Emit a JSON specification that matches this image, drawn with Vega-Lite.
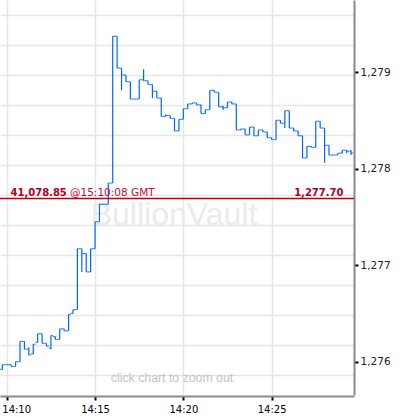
{
  "$schema": "https://vega.github.io/schema/vega-lite/v6.json",
  "width": 354,
  "height": 395,
  "autosize": "none",
  "padding": {"left": 0, "top": 0, "right": 46, "bottom": 22},
  "background": "white",
  "config": {
    "view": {"stroke": null},
    "font": "DejaVu Sans"
  },
  "data": {
    "values": [
      {"time": "2013-01-01T14:09:45", "open": 1275.92, "high": 1275.97, "low": 1275.92, "close": 1275.97},
      {"time": "2013-01-01T14:10:00", "open": 1275.97, "high": 1275.97, "low": 1275.97, "close": 1275.97},
      {"time": "2013-01-01T14:10:15", "open": 1275.97, "high": 1275.97, "low": 1275.95, "close": 1275.95},
      {"time": "2013-01-01T14:10:30", "open": 1275.95, "high": 1276.00, "low": 1275.95, "close": 1276.00},
      {"time": "2013-01-01T14:10:45", "open": 1276.00, "high": 1276.21, "low": 1276.00, "close": 1276.21},
      {"time": "2013-01-01T14:11:00", "open": 1276.21, "high": 1276.21, "low": 1276.13, "close": 1276.13},
      {"time": "2013-01-01T14:11:15", "open": 1276.13, "high": 1276.15, "low": 1276.07, "close": 1276.07},
      {"time": "2013-01-01T14:11:30", "open": 1276.08, "high": 1276.18, "low": 1276.08, "close": 1276.18},
      {"time": "2013-01-01T14:11:45", "open": 1276.20, "high": 1276.29, "low": 1276.20, "close": 1276.29},
      {"time": "2013-01-01T14:12:00", "open": 1276.29, "high": 1276.29, "low": 1276.19, "close": 1276.19},
      {"time": "2013-01-01T14:12:15", "open": 1276.19, "high": 1276.19, "low": 1276.16, "close": 1276.16},
      {"time": "2013-01-01T14:12:30", "open": 1276.14, "high": 1276.27, "low": 1276.13, "close": 1276.27},
      {"time": "2013-01-01T14:12:45", "open": 1276.26, "high": 1276.26, "low": 1276.23, "close": 1276.23},
      {"time": "2013-01-01T14:13:00", "open": 1276.23, "high": 1276.34, "low": 1276.23, "close": 1276.34},
      {"time": "2013-01-01T14:13:15", "open": 1276.34, "high": 1276.34, "low": 1276.32, "close": 1276.32},
      {"time": "2013-01-01T14:13:30", "open": 1276.32, "high": 1276.49, "low": 1276.32, "close": 1276.49},
      {"time": "2013-01-01T14:13:45", "open": 1276.50, "high": 1276.54, "low": 1276.50, "close": 1276.54},
      {"time": "2013-01-01T14:14:00", "open": 1276.54, "high": 1277.17, "low": 1276.54, "close": 1277.17},
      {"time": "2013-01-01T14:14:15", "open": 1277.17, "high": 1277.17, "low": 1276.93, "close": 1277.12},
      {"time": "2013-01-01T14:14:30", "open": 1277.12, "high": 1277.12, "low": 1276.93, "close": 1276.93},
      {"time": "2013-01-01T14:14:45", "open": 1276.93, "high": 1277.17, "low": 1276.93, "close": 1277.17},
      {"time": "2013-01-01T14:15:00", "open": 1277.17, "high": 1277.45, "low": 1277.17, "close": 1277.45},
      {"time": "2013-01-01T14:15:15", "open": 1277.45, "high": 1277.63, "low": 1277.45, "close": 1277.63},
      {"time": "2013-01-01T14:15:30", "open": 1277.63, "high": 1277.63, "low": 1277.63, "close": 1277.63},
      {"time": "2013-01-01T14:15:45", "open": 1277.63, "high": 1277.85, "low": 1277.63, "close": 1277.85},
      {"time": "2013-01-01T14:16:00", "open": 1277.85, "high": 1279.37, "low": 1277.85, "close": 1279.37},
      {"time": "2013-01-01T14:16:15", "open": 1279.37, "high": 1279.37, "low": 1279.04, "close": 1279.04},
      {"time": "2013-01-01T14:16:30", "open": 1279.04, "high": 1279.04, "low": 1278.81, "close": 1278.97},
      {"time": "2013-01-01T14:16:45", "open": 1278.97, "high": 1278.97, "low": 1278.90, "close": 1278.90},
      {"time": "2013-01-01T14:17:00", "open": 1278.90, "high": 1278.90, "low": 1278.72, "close": 1278.72},
      {"time": "2013-01-01T14:17:15", "open": 1278.72, "high": 1278.72, "low": 1278.72, "close": 1278.72},
      {"time": "2013-01-01T14:17:30", "open": 1278.72, "high": 1278.92, "low": 1278.72, "close": 1278.92},
      {"time": "2013-01-01T14:17:45", "open": 1278.92, "high": 1279.03, "low": 1278.91, "close": 1278.91},
      {"time": "2013-01-01T14:18:00", "open": 1278.91, "high": 1278.91, "low": 1278.87, "close": 1278.87},
      {"time": "2013-01-01T14:18:15", "open": 1278.87, "high": 1278.87, "low": 1278.73, "close": 1278.80},
      {"time": "2013-01-01T14:18:30", "open": 1278.80, "high": 1278.80, "low": 1278.73, "close": 1278.73},
      {"time": "2013-01-01T14:18:45", "open": 1278.73, "high": 1278.73, "low": 1278.54, "close": 1278.54},
      {"time": "2013-01-01T14:19:00", "open": 1278.54, "high": 1278.56, "low": 1278.54, "close": 1278.55},
      {"time": "2013-01-01T14:19:15", "open": 1278.55, "high": 1278.55, "low": 1278.52, "close": 1278.52},
      {"time": "2013-01-01T14:19:30", "open": 1278.52, "high": 1278.52, "low": 1278.39, "close": 1278.39},
      {"time": "2013-01-01T14:19:45", "open": 1278.39, "high": 1278.51, "low": 1278.39, "close": 1278.51},
      {"time": "2013-01-01T14:20:00", "open": 1278.51, "high": 1278.62, "low": 1278.51, "close": 1278.62},
      {"time": "2013-01-01T14:20:15", "open": 1278.62, "high": 1278.67, "low": 1278.62, "close": 1278.67},
      {"time": "2013-01-01T14:20:30", "open": 1278.67, "high": 1278.68, "low": 1278.67, "close": 1278.68},
      {"time": "2013-01-01T14:20:45", "open": 1278.68, "high": 1278.68, "low": 1278.66, "close": 1278.66},
      {"time": "2013-01-01T14:21:00", "open": 1278.66, "high": 1278.66, "low": 1278.57, "close": 1278.57},
      {"time": "2013-01-01T14:21:15", "open": 1278.57, "high": 1278.61, "low": 1278.57, "close": 1278.61},
      {"time": "2013-01-01T14:21:30", "open": 1278.61, "high": 1278.81, "low": 1278.61, "close": 1278.81},
      {"time": "2013-01-01T14:21:45", "open": 1278.81, "high": 1278.81, "low": 1278.79, "close": 1278.79},
      {"time": "2013-01-01T14:22:00", "open": 1278.79, "high": 1278.79, "low": 1278.64, "close": 1278.64},
      {"time": "2013-01-01T14:22:15", "open": 1278.64, "high": 1278.65, "low": 1278.61, "close": 1278.63},
      {"time": "2013-01-01T14:22:30", "open": 1278.63, "high": 1278.69, "low": 1278.63, "close": 1278.69},
      {"time": "2013-01-01T14:22:45", "open": 1278.69, "high": 1278.69, "low": 1278.67, "close": 1278.67},
      {"time": "2013-01-01T14:23:00", "open": 1278.67, "high": 1278.67, "low": 1278.40, "close": 1278.40},
      {"time": "2013-01-01T14:23:15", "open": 1278.40, "high": 1278.41, "low": 1278.40, "close": 1278.41},
      {"time": "2013-01-01T14:23:30", "open": 1278.41, "high": 1278.41, "low": 1278.35, "close": 1278.35},
      {"time": "2013-01-01T14:23:45", "open": 1278.35, "high": 1278.43, "low": 1278.35, "close": 1278.43},
      {"time": "2013-01-01T14:24:00", "open": 1278.43, "high": 1278.43, "low": 1278.34, "close": 1278.34},
      {"time": "2013-01-01T14:24:15", "open": 1278.34, "high": 1278.40, "low": 1278.34, "close": 1278.40},
      {"time": "2013-01-01T14:24:30", "open": 1278.40, "high": 1278.40, "low": 1278.38, "close": 1278.38},
      {"time": "2013-01-01T14:24:45", "open": 1278.38, "high": 1278.38, "low": 1278.32, "close": 1278.32},
      {"time": "2013-01-01T14:25:00", "open": 1278.32, "high": 1278.32, "low": 1278.30, "close": 1278.30},
      {"time": "2013-01-01T14:25:15", "open": 1278.30, "high": 1278.50, "low": 1278.30, "close": 1278.50},
      {"time": "2013-01-01T14:25:30", "open": 1278.50, "high": 1278.50, "low": 1278.47, "close": 1278.47},
      {"time": "2013-01-01T14:25:45", "open": 1278.47, "high": 1278.60, "low": 1278.42, "close": 1278.60},
      {"time": "2013-01-01T14:26:00", "open": 1278.60, "high": 1278.60, "low": 1278.42, "close": 1278.42},
      {"time": "2013-01-01T14:26:15", "open": 1278.42, "high": 1278.42, "low": 1278.39, "close": 1278.39},
      {"time": "2013-01-01T14:26:30", "open": 1278.39, "high": 1278.39, "low": 1278.34, "close": 1278.34},
      {"time": "2013-01-01T14:26:45", "open": 1278.34, "high": 1278.34, "low": 1278.11, "close": 1278.11},
      {"time": "2013-01-01T14:27:00", "open": 1278.11, "high": 1278.23, "low": 1278.11, "close": 1278.23},
      {"time": "2013-01-01T14:27:15", "open": 1278.23, "high": 1278.23, "low": 1278.22, "close": 1278.22},
      {"time": "2013-01-01T14:27:30", "open": 1278.22, "high": 1278.49, "low": 1278.22, "close": 1278.49},
      {"time": "2013-01-01T14:27:45", "open": 1278.49, "high": 1278.49, "low": 1278.42, "close": 1278.42},
      {"time": "2013-01-01T14:28:00", "open": 1278.42, "high": 1278.42, "low": 1278.06, "close": 1278.24},
      {"time": "2013-01-01T14:28:15", "open": 1278.24, "high": 1278.24, "low": 1278.14, "close": 1278.14},
      {"time": "2013-01-01T14:28:30", "open": 1278.14, "high": 1278.14, "low": 1278.14, "close": 1278.14},
      {"time": "2013-01-01T14:28:45", "open": 1278.14, "high": 1278.16, "low": 1278.14, "close": 1278.16},
      {"time": "2013-01-01T14:29:00", "open": 1278.16, "high": 1278.19, "low": 1278.16, "close": 1278.19},
      {"time": "2013-01-01T14:29:15", "open": 1278.19, "high": 1278.19, "low": 1278.16, "close": 1278.18},
      {"time": "2013-01-01T14:29:30", "open": 1278.18, "high": 1278.19, "low": 1278.14, "close": 1278.16}
    ]
  },
  "resolve": {"axis": {"y": "independent"}},
  "layer": [
    {
      "data": {"values": [{"mark": "BullionVault"}]},
      "mark": {"type": "text", "font": "Liberation Sans", "fontSize": 32, "color": "#ebebeb", "baseline": "alphabetic", "align": "center", "dx": -3, "dy": 27},
      "encoding": {"text": {"field": "mark"}}
    },
    {
      "data": {"values": [{"hint": "click chart to zoom out"}]},
      "mark": {"type": "text", "font": "Liberation Sans", "fontSize": 12.3, "color": "#c4c4c4", "baseline": "alphabetic", "align": "center", "dx": -5, "dy": 184},
      "encoding": {"text": {"field": "hint"}}
    },
    {
      "mark": {"type": "rule", "color": "#0066ff", "strokeWidth": 1.2},
      "encoding": {
        "x": {
          "field": "time", "type": "temporal",
          "scale": {"domain": [
            {"year": 2013, "month": 1, "date": 1, "hours": 14, "minutes": 9, "seconds": 37},
            {"year": 2013, "month": 1, "date": 1, "hours": 14, "minutes": 29, "seconds": 40}
          ]},
          "axis": {
            "values": [
              {"year": 2013, "month": 1, "date": 1, "hours": 14, "minutes": 10},
              {"year": 2013, "month": 1, "date": 1, "hours": 14, "minutes": 15},
              {"year": 2013, "month": 1, "date": 1, "hours": 14, "minutes": 20},
              {"year": 2013, "month": 1, "date": 1, "hours": 14, "minutes": 25}
            ],
            "format": "%H:%M", "title": null,
            "grid": true, "gridColor": "#e6e6e6", "gridWidth": 1.5,
            "domainColor": "#8a8a8a", "domainWidth": 2, "offset": 1,
            "tickColor": "#000", "tickWidth": 2, "tickSize": 4,
            "labelFontSize": 10, "labelColor": "#000", "labelPadding": 4,
            "labelFlush": 10, "labelFlushOffset": 5
          }
        },
        "y": {
          "field": "low", "type": "quantitative",
          "scale": {"domain": [1275.655, 1279.746], "zero": false, "nice": false},
          "axis": {
            "orient": "right", "values": [1276, 1277, 1278, 1279], "format": ",d", "title": null,
            "grid": false, "domainColor": "#8a8a8a", "domainWidth": 2,
            "tickColor": "#000", "tickWidth": 2, "tickSize": 4,
            "labelFontSize": 10.5, "labelColor": "#222", "labelPadding": 2
          }
        },
        "y2": {"field": "high"}
      }
    },
    {
      "mark": {"type": "tick", "orient": "horizontal", "color": "#0066ff", "size": 2.4, "thickness": 1.2, "xOffset": -1.1},
      "encoding": {
        "x": {"field": "time", "type": "temporal"},
        "y": {
          "field": "open", "type": "quantitative",
          "axis": {
            "orient": "left", "title": null, "domain": false, "ticks": false, "labels": false,
            "grid": true, "gridColor": "#e6e6e6", "gridWidth": 1.5,
            "values": [1279.590, 1279.280, 1278.969, 1278.658, 1278.348, 1278.037, 1277.726, 1277.416, 1277.105, 1276.794, 1276.484, 1276.173, 1275.862]
          }
        }
      }
    },
    {
      "mark": {"type": "tick", "orient": "horizontal", "color": "#0066ff", "size": 2.4, "thickness": 1.2, "xOffset": 1.1},
      "encoding": {
        "x": {"field": "time", "type": "temporal"},
        "y": {"field": "close", "type": "quantitative", "axis": null}
      }
    },
    {
      "data": {"values": [{"price": 1277.69, "last": "1,277.70", "volume": "41,078.85", "stamp": "@15:10:08 GMT"}]},
      "layer": [
        {
          "mark": {"type": "rule", "color": "#c00000", "strokeWidth": 1.3},
          "encoding": {"y": {"field": "price", "type": "quantitative", "axis": null}}
        },
        {
          "mark": {"type": "text", "fontSize": 10, "fontWeight": "bold", "color": "#b0001e", "align": "left", "baseline": "alphabetic", "dx": 10.5, "dy": -3},
          "encoding": {
            "x": {"datum": {"year": 2013, "month": 1, "date": 1, "hours": 14, "minutes": 9, "seconds": 37}, "type": "temporal"},
            "y": {"field": "price", "type": "quantitative", "axis": null},
            "text": {"field": "volume"}
          }
        },
        {
          "mark": {"type": "text", "fontSize": 10.5, "color": "#c8102e", "align": "left", "baseline": "alphabetic", "dx": 70, "dy": -3},
          "encoding": {
            "x": {"datum": {"year": 2013, "month": 1, "date": 1, "hours": 14, "minutes": 9, "seconds": 37}, "type": "temporal"},
            "y": {"field": "price", "type": "quantitative", "axis": null},
            "text": {"field": "stamp"}
          }
        },
        {
          "mark": {"type": "text", "fontSize": 10, "fontWeight": "bold", "color": "#b0001e", "align": "right", "baseline": "alphabetic", "dx": -10.5, "dy": -3},
          "encoding": {
            "x": {"datum": {"year": 2013, "month": 1, "date": 1, "hours": 14, "minutes": 29, "seconds": 40}, "type": "temporal"},
            "y": {"field": "price", "type": "quantitative", "axis": null},
            "text": {"field": "last"}
          }
        }
      ]
    }
  ]
}
